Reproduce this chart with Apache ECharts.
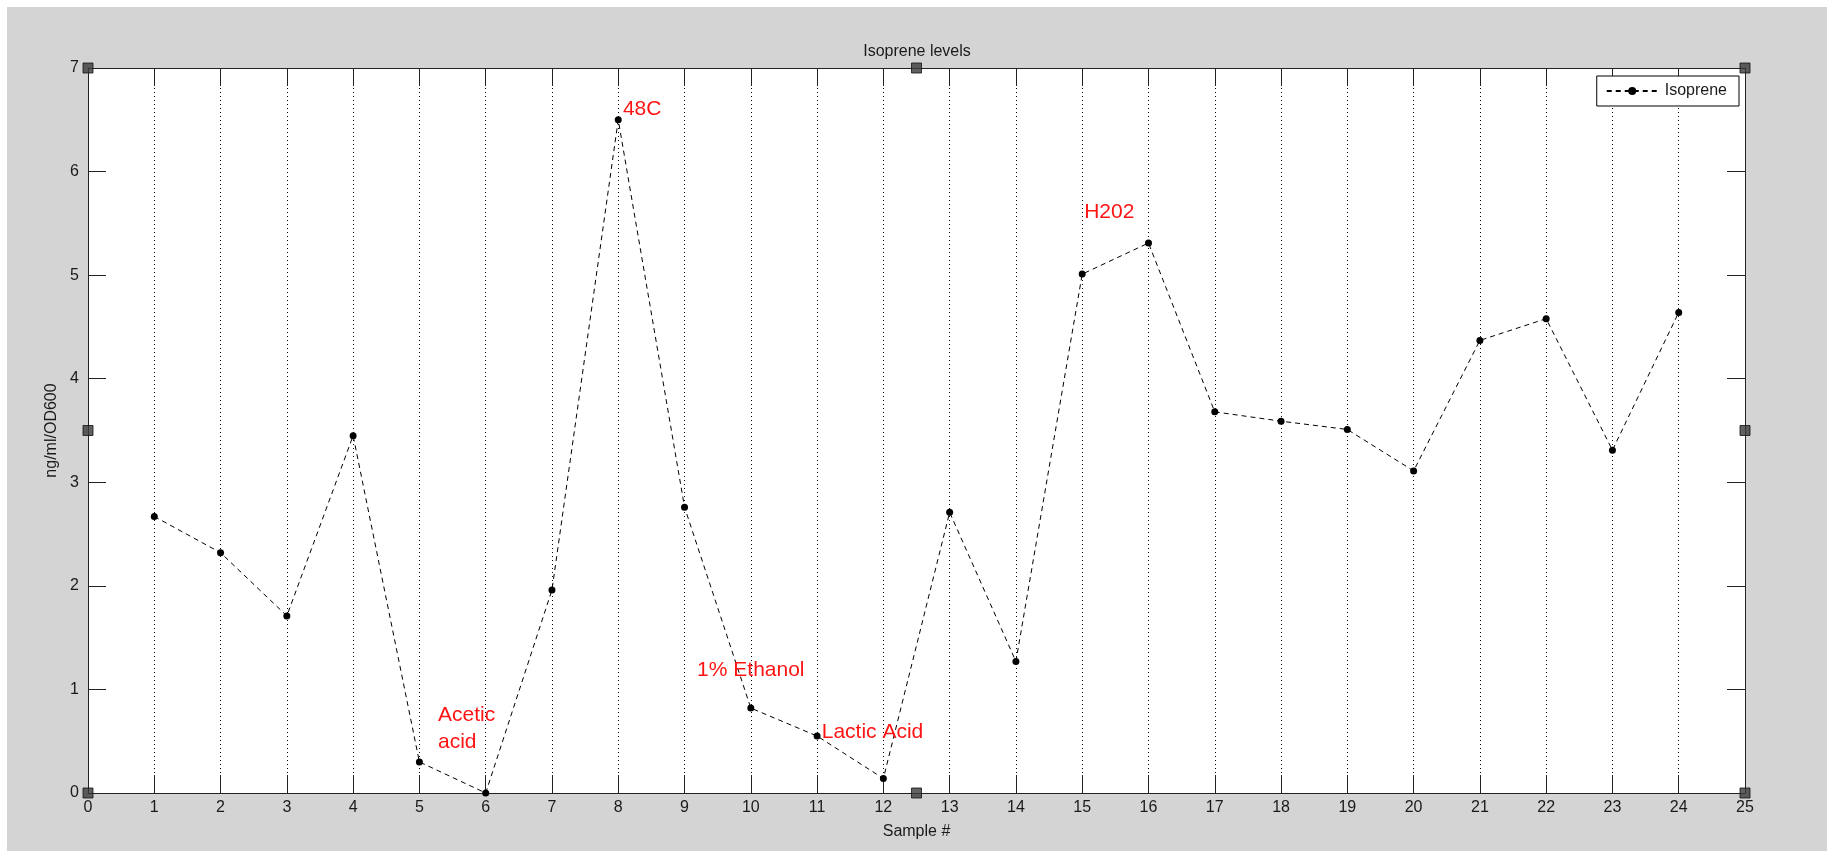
<!DOCTYPE html>
<html>
<head>
<meta charset="utf-8">
<script src="https://cdn.jsdelivr.net/npm/echarts@6/dist/echarts.min.js"></script>
<style>
html,body{margin:0;padding:0;background:#ffffff;width:1831px;height:851px;overflow:hidden;}
#chart{position:absolute;left:7px;top:7px;width:1820px;height:844px;background:#d4d4d4;}
</style>
</head>
<body>
<div id="chart"></div>
<script>
// ---- data ----
const samples = [1,2,3,4,5,6,7,8,9,10,11,12,13,14,15,16,17,18,19,20,21,22,23,24];
const isoprene = [2.67,2.32,1.71,3.45,0.30,0.00,1.96,6.50,2.76,0.82,0.55,0.14,2.71,1.27,5.01,5.31,3.68,3.59,3.51,3.11,4.37,4.58,3.31,4.64];
const xTicks = [0,1,2,3,4,5,6,7,8,9,10,11,12,13,14,15,16,17,18,19,20,21,22,23,24,25];
const yTicks = [0,1,2,3,4,5,6,7];
const annotationText = ['48C','H202','1% Ethanol','Acetic\nacid','Lactic Acid'];
const annotationX = [8.07,15.03,9.19,5.28,11.07];
const annotationY = [6.60,5.61,1.19,0.62,0.59];
// MATLAB edit handles (axes corners / midpoints)
const handleX = [0,12.5,25,0,25,0,12.5,25];
const handleY = [0,0,0,3.5,3.5,7,7,7];

const font = 'Liberation Sans, Arial, sans-serif';
const axisColor = '#222';
const xMin = xTicks[0], xMax = xTicks[xTicks.length-1];
const yMin = yTicks[0], yMax = yTicks[yTicks.length-1];

const chart = echarts.init(document.getElementById('chart'));
const option = {
  animation: false,
  backgroundColor: '#d4d4d4',
  title: {
    text: 'Isoprene levels',
    left: 'center',
    top: 32,
    textStyle: {fontFamily: font, fontSize: 16, fontWeight: 'normal', color: '#1a1a1a'}
  },
  grid: {
    left: 81, top: 61, right: 82, bottom: 58,
    show: true, backgroundColor: '#ffffff', borderWidth: 0
  },
  legend: {
    data: ['Isoprene'],
    right: 88, top: 69,
    orient: 'vertical',
    backgroundColor: '#ffffff',
    borderColor: '#000', borderWidth: 1, borderRadius: 0,
    padding: [7, 12, 7, 9],
    itemWidth: 51, itemHeight: 10, itemGap: 0,
    textStyle: {fontFamily: font, fontSize: 16, color: '#1a1a1a', padding: [0,0,0,2]}
  },
  xAxis: [{
    type: 'value', min: xMin, max: xMax, interval: 1,
    name: 'Sample #', nameLocation: 'middle', nameGap: 31,
    nameTextStyle: {fontFamily: font, fontSize: 16, color: '#1a1a1a'},
    axisLine: {show: true, onZero: false, lineStyle: {color: axisColor, width: 1}},
    axisTick: {show: true, inside: true, length: 18, lineStyle: {color: axisColor, width: 1}},
    axisLabel: {fontFamily: font, fontSize: 16, color: '#1a1a1a', margin: 7, showMinLabel: true, showMaxLabel: true},
    splitLine: {show: true, lineStyle: {color: '#000', width: 1, type: [1, 3]}}
  },{
    type: 'value', min: xMin, max: xMax, interval: 1, position: 'top',
    axisLine: {show: true, onZero: false, lineStyle: {color: axisColor, width: 1}},
    axisTick: {show: true, inside: true, length: 18, lineStyle: {color: axisColor, width: 1}},
    axisLabel: {show: false}, splitLine: {show: false}
  }],
  yAxis: [{
    type: 'value', min: yMin, max: yMax, interval: 1,
    name: 'ng/ml/OD600', nameLocation: 'middle', nameGap: 25,
    nameTextStyle: {fontFamily: font, fontSize: 16, color: '#1a1a1a'},
    axisLine: {show: true, onZero: false, lineStyle: {color: axisColor, width: 1}},
    axisTick: {show: true, inside: true, length: 18, lineStyle: {color: axisColor, width: 1}},
    axisLabel: {fontFamily: font, fontSize: 16, color: '#1a1a1a', margin: 9},
    splitLine: {show: false}
  },{
    type: 'value', min: yMin, max: yMax, interval: 1, position: 'right',
    axisLine: {show: true, onZero: false, lineStyle: {color: axisColor, width: 1}},
    axisTick: {show: true, inside: true, length: 18, lineStyle: {color: axisColor, width: 1}},
    axisLabel: {show: false}, splitLine: {show: false}
  }],
  series: [{
    name: 'Isoprene',
    type: 'line',
    xAxisIndex: 0, yAxisIndex: 0,
    data: samples.map((s, i) => [s, isoprene[i]]),
    symbol: 'circle', symbolSize: 7,
    itemStyle: {color: '#000'},
    lineStyle: {color: '#000', width: 1, type: [5, 4]},
    markPoint: {
      symbol: 'circle', symbolSize: 0,
      silent: true,
      label: {
        show: true, position: 'inside', align: 'left', verticalAlign: 'middle',
        fontFamily: font, fontSize: 21, color: '#ff1414', lineHeight: 27,
        formatter: p => p.name
      },
      data: annotationText.map((t, i) => ({name: t, coord: [annotationX[i], annotationY[i]]}))
    },
    z: 3
  },{
    name: 'handles',
    type: 'scatter',
    xAxisIndex: 0, yAxisIndex: 0,
    data: handleX.map((x, i) => [x, handleY[i]]),
    symbol: 'rect', symbolSize: 10,
    itemStyle: {color: '#3a3a3a', borderColor: '#111', borderWidth: 1},
    silent: true, clip: false, z: 10
  }]
};
chart.setOption(option);
</script>
</body>
</html>
